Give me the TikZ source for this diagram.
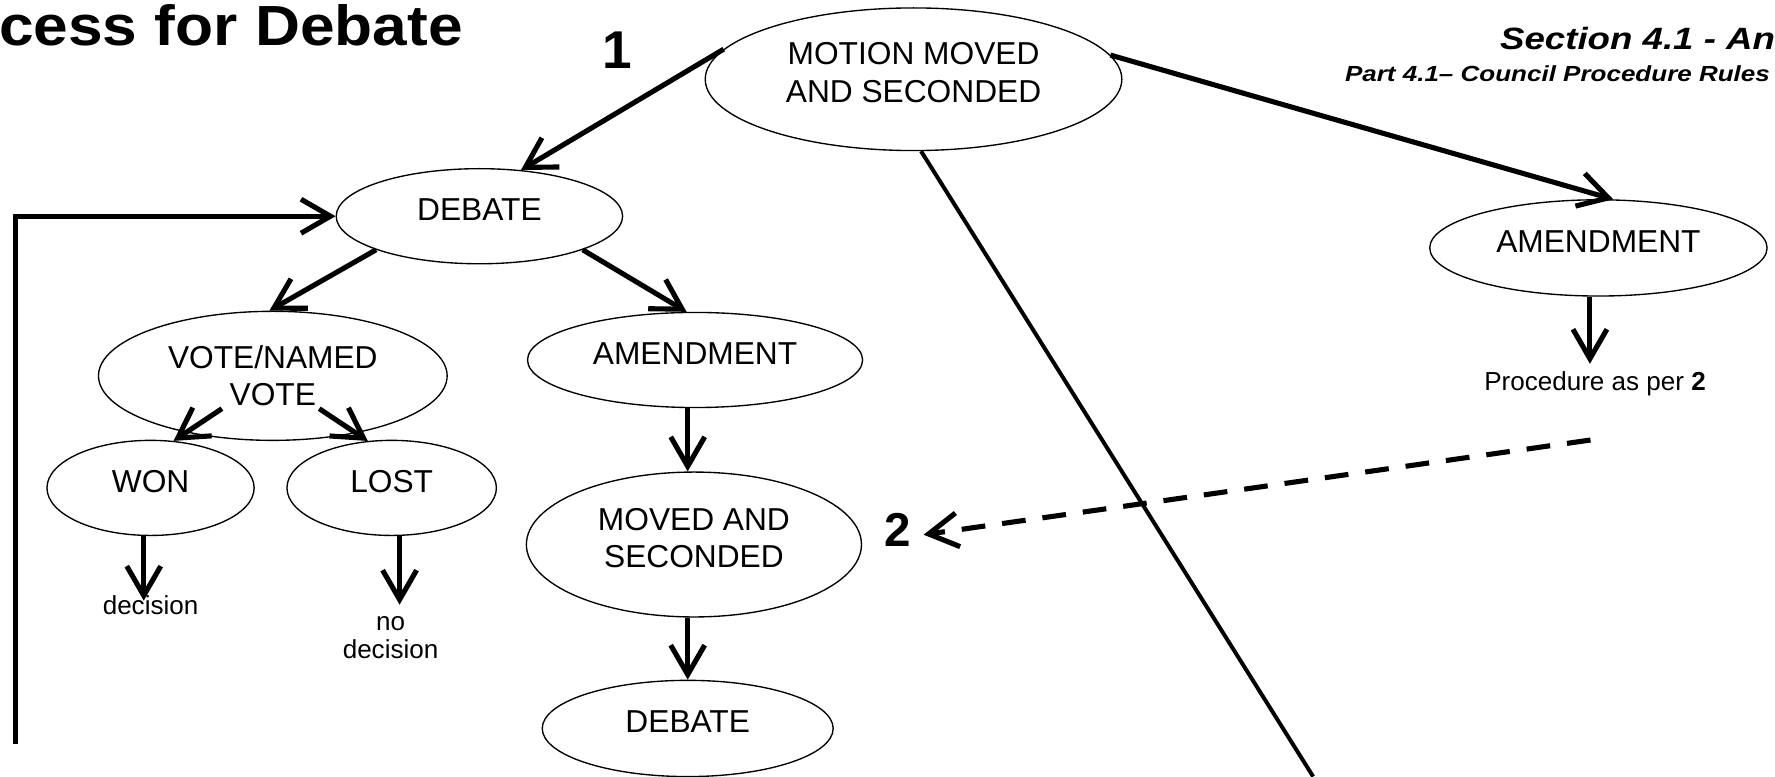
\documentclass[tikz,border=0pt]{standalone}
\usepackage{fontspec}
\setmainfont{Liberation Sans}
\newfontfamily\ttlfont[FakeStretch=1.1]{Liberation Sans}
\newfontfamily\hdfont[FakeStretch=1.19]{Liberation Sans}
\usetikzlibrary{arrows.meta, shapes.geometric, positioning}

\begin{document}
\begin{tikzpicture}[x=1pt, y=-1pt]

  % Define styles
  \tikzstyle{oval} = [ellipse, draw, line width=1.2pt, inner sep=2pt, align=center, text depth=12pt, font=\fontsize{28}{33}\selectfont]
  \tikzstyle{arr} = [draw, line width=4.5pt, -{Straight Barb[length=26pt, width=30pt, line width=4.5pt]}]
  \tikzstyle{dash_arr} = [arr, dash pattern=on 21pt off 15pt]
  \tikzstyle{txt} = [align=center, font=\fontsize{23}{25}\selectfont]
  \tikzstyle{num} = [anchor=base, inner sep=7pt]

  \useasboundingbox (0,0) rectangle (1568,686);
  \clip (0,0) rectangle (1568,686);

  % Headings
  \node[anchor=base east, inner sep=0pt, font=\ttlfont\bfseries\fontsize{50}{50}\selectfont] (title) at (409, 40) {cess for Debate};
  \node[anchor=base west, inner sep=0pt, font=\hdfont\bfseries\itshape\fontsize{27.2}{27}\selectfont] (sect) at (1325, 43.3) {Section 4.1 - An};
  \node[anchor=base west, inner sep=0pt, font=\hdfont\bfseries\itshape\fontsize{19.3}{20}\selectfont] (part) at (1188, 72.2) {Part 4.1– Council Procedure Rules};

  % Step numbers
  \node[num, font=\bfseries\fontsize{47}{47}\selectfont] (lbl1) at (545.5, 60.3) {1};
  \node[num, font=\bfseries\fontsize{42}{42}\selectfont] (lbl2) at (793, 483) {2};

  % Motion
  \node[oval, minimum width=368pt, minimum height=126pt] (motion) at (807, 70) {MOTION MOVED\\AND SECONDED};

  % Left branch
  \node[oval, minimum width=253pt, minimum height=84pt] (debate) at (423.5, 191) {DEBATE};
  \node[oval, minimum width=308pt, minimum height=114pt, text depth=0pt] (vote) at (241, 332) {VOTE/NAMED\\VOTE};
  \node[oval, minimum width=183pt, minimum height=84pt] (won) at (133, 431) {WON};
  \node[oval, minimum width=185pt, minimum height=84pt] (lost) at (346, 431) {LOST};
  \node[txt] (dec) at (133, 534.6) {decision};
  \node[txt] (nodec) at (345, 563.5) {no\\decision};

  % Middle branch
  \node[oval, minimum width=296pt, minimum height=84pt] (amend) at (614, 318) {AMENDMENT};
  \node[oval, minimum width=296pt, minimum height=128pt] (moved) at (613, 481) {MOVED AND\\SECONDED};
  \node[oval, minimum width=257pt, minimum height=85pt] (debate2) at (607.5, 643.5) {DEBATE};

  % Right branch
  \node[oval, minimum width=298pt, minimum height=85pt] (amend2) at (1412, 219) {AMENDMENT};
  \node[txt] (proc) at (1409, 338.6) {Procedure as per \textbf{2}};

  % Motion connections
  \draw[arr] (motion.171) -- (debate.48);
  \draw[arr] (motion.7) -- (amend2.73);
  \coordinate (cutend) at (1160, 686);
  \draw[line width=3.5pt] (motion.276) -- (cutend);

  % Loop back to debate
  \coordinate (loopstart) at (13.5, 657);
  \draw[arr] (loopstart) |- (debate.west);

  % Debate connections
  \draw[arr] (debate.198) -- (vote.93);
  \draw[arr] (debate.342) -- (amend.100);
  \draw[arr] ([shift={(-45,29)}]vote.center) -- (won.64);
  \draw[arr] ([shift={(41,29)}]vote.center) -- (lost.117);
  \draw[arr] ([xshift=-6pt]won.south) -- ([xshift=-6pt, yshift=4pt]dec.center);
  \draw[arr] ([xshift=7pt]lost.south) -- ([xshift=8pt, yshift=7pt]nodec.north);

  % Amendment connections
  \draw[arr] ([xshift=-6.5pt]amend.south) -- ([xshift=-5.5pt]moved.north);
  \draw[arr] ([xshift=-5.5pt]moved.south) -- (debate2.north);
  \draw[arr] ([xshift=-7.5pt]amend2.south) -- ([xshift=-4.5pt, yshift=3pt]proc.north);

  % Back to 2
  \coordinate (dashstart) at (1405, 388.7);
  \draw[dash_arr] (dashstart) -- ([xshift=4pt, yshift=-4pt]lbl2.east);

\end{tikzpicture}
\end{document}
